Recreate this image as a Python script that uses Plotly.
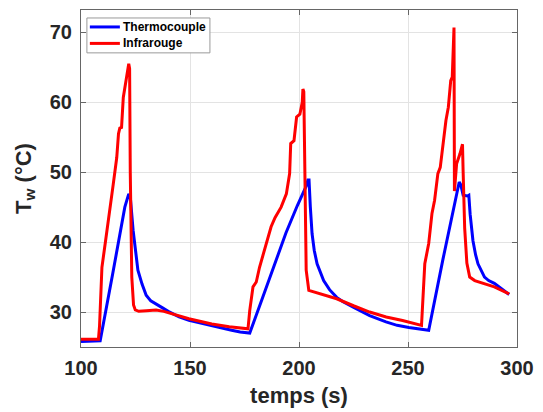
import plotly.graph_objects as go

# Thermocouple (blue)
tc_t = [100, 105, 108.8, 114.5, 120.1, 121.9, 122.6, 123.9, 125, 126.1, 128, 129.9, 132, 135.9,
        137.4, 140, 145, 149.5, 155, 160, 165, 169.1, 173, 177.4,
        183, 188.4, 194, 199.2, 201.5, 203.3, 204.1, 204.6, 205.2, 206, 207, 208.3, 211.3, 214,
        217.3, 220, 224.9, 232.4, 239.9, 245, 250.4, 255, 259.5,
        266, 272, 273.5, 274.2, 275.3, 277.3, 277.9, 278.5, 279.8, 281, 282.1, 285.1, 287,
        289.6, 293, 296.4]
tc_T = [25.8, 25.8, 25.9, 35.4, 45.0, 46.9, 46.5, 41.7, 38.5, 36.0, 34.0, 32.4, 31.6, 30.8,
        30.6, 30.1, 29.3, 28.8, 28.4, 27.96, 27.6, 27.4, 27.15, 27.0,
        31.8, 36.4, 41.3, 45.2, 46.9, 48.0, 48.9, 48.9, 45.0, 41.2, 38.8, 36.9, 34.5, 33.2,
        32.1, 31.5, 30.7, 29.5, 28.6, 28.1, 27.8, 27.6, 27.4,
        37.5, 46.8, 48.6, 48.2, 46.7, 46.6, 46.7, 44.0, 40.2, 38.2, 36.9, 35.0, 34.5,
        34.1, 33.3, 32.5]

# Infrarouge (red)
ir_t = [100, 108, 108.5, 109.6, 111.1, 113.3, 114.8, 116.4, 117.2, 117.8, 118.6, 119.4, 120.4,
        121.2, 121.9, 122.3, 122.6, 123.3, 124.1, 124.9, 126.5, 130, 134.4, 138, 142, 149.5,
        160, 168, 176.6,
        177.4, 178.9, 180.4, 181.9, 184, 187.2, 189, 191.8, 194.2, 195.7, 196.2, 197.7, 198.9,
        200.4, 201.5, 201.8, 202.2, 202.7, 203.3, 204.5, 209.8, 217.3, 225, 232.4, 240, 247.5,
        256.2,
        257.7, 259.5, 261, 262.2, 263.7, 264.8, 266.3, 267.4, 268.5, 269.6, 270.3, 271.1,
        271.3, 272.3, 273.8, 275, 275.3, 276, 277, 278.3, 280.6, 285.1, 289.6, 296.4]
ir_T = [26.1, 26.1, 28.0, 36.4, 39.8, 44.5, 48.3, 52.1, 55.5, 56.3, 56.4, 60.7, 62.6,
        64.1, 65.5, 64.8, 50.0, 35.0, 31.0, 30.3, 30.1, 30.2, 30.3, 30.1, 29.7, 29.05,
        28.3, 27.9, 27.6,
        30.2, 33.6, 34.3, 36.4, 38.8, 42.2, 43.5, 45.0, 46.9, 49.8, 54.1, 54.5, 57.9,
        58.3, 60.0, 61.9, 61.5, 45.0, 36.0, 33.1, 32.6, 31.9, 30.9, 30.0, 29.3, 28.8,
        28.1,
        36.9, 39.8, 44.1, 46.0, 49.8, 50.7, 54.5, 57.4, 59.3, 63.1, 63.6, 70.7,
        47.3, 51.2, 52.6, 54.0, 50.0, 42.0, 37.0, 35.0, 34.5, 34.1, 33.6, 32.6]

series_names = ["Thermocouple", "Infrarouge"]
series_colors = ["#0000ff", "#ff0000"]

x_ticks = [100, 150, 200, 250, 300]
y_ticks = [30, 40, 50, 60, 70]

FONT = "Liberation Sans, Arial, sans-serif"
TXT = "#262626"

W, H = 543, 412
ML, MR, MT, MB = 81, 19, 9, 65
PW, PH = W - ML - MR, H - MT - MB


def px_x(p):
    return (p - ML) / PW


def px_y(p):
    return (H - MB - p) / PH


fig = go.Figure()
fig.add_trace(go.Scatter(x=tc_t, y=tc_T, mode="lines", name=series_names[0],
                         line=dict(color=series_colors[0], width=3)))
fig.add_trace(go.Scatter(x=ir_t, y=ir_T, mode="lines", name=series_names[1],
                         line=dict(color=series_colors[1], width=3)))

axis_common = dict(showline=True, linecolor="#666666", linewidth=1, mirror="ticks",
                   ticks="inside", ticklen=5, tickcolor="#666666",
                   showgrid=True, gridcolor="#e3e3e3", gridwidth=1, zeroline=False,
                   tickfont=dict(family=FONT, size=20, color=TXT, weight="bold"))

fig.update_xaxes(range=[100, 300], tickvals=x_ticks, ticklabelstandoff=3,
                 title=dict(text="temps (s)", font=dict(family=FONT, size=22, color=TXT, weight="bold"),
                            standoff=9),
                 **axis_common)
fig.update_yaxes(range=[25, 73.2], tickvals=y_ticks, ticklabelstandoff=4,
                 title=dict(text="T<sub>w</sub> (°C)", font=dict(family=FONT, size=22, color=TXT, weight="bold"),
                            standoff=12),
                 **axis_common)

# Compact MATLAB-style legend box
fig.add_shape(type="rect", xref="paper", yref="paper",
              x0=px_x(87), x1=px_x(212), y0=px_y(52), y1=px_y(17),
              fillcolor="white", line=dict(color="#999999", width=1), layer="above")
for i, (nm, col) in enumerate(zip(series_names, series_colors)):
    yy = px_y(26 + 16.5 * i)
    fig.add_shape(type="line", xref="paper", yref="paper",
                  x0=px_x(90), x1=px_x(120.5), y0=yy, y1=yy,
                  line=dict(color=col, width=3), layer="above")
    fig.add_annotation(xref="paper", yref="paper", x=px_x(121.5), y=yy,
                       xanchor="left", yanchor="middle", showarrow=False, text=nm,
                       font=dict(family=FONT, size=12, color="black", weight="bold"))

fig.update_layout(
    width=W, height=H,
    margin=dict(l=ML, r=MR, t=MT, b=MB),
    paper_bgcolor="white", plot_bgcolor="white",
    showlegend=False,
)

fig.write_html("out.html", config={"displayModeBar": False},
               post_script="document.body.style.margin='0';")
